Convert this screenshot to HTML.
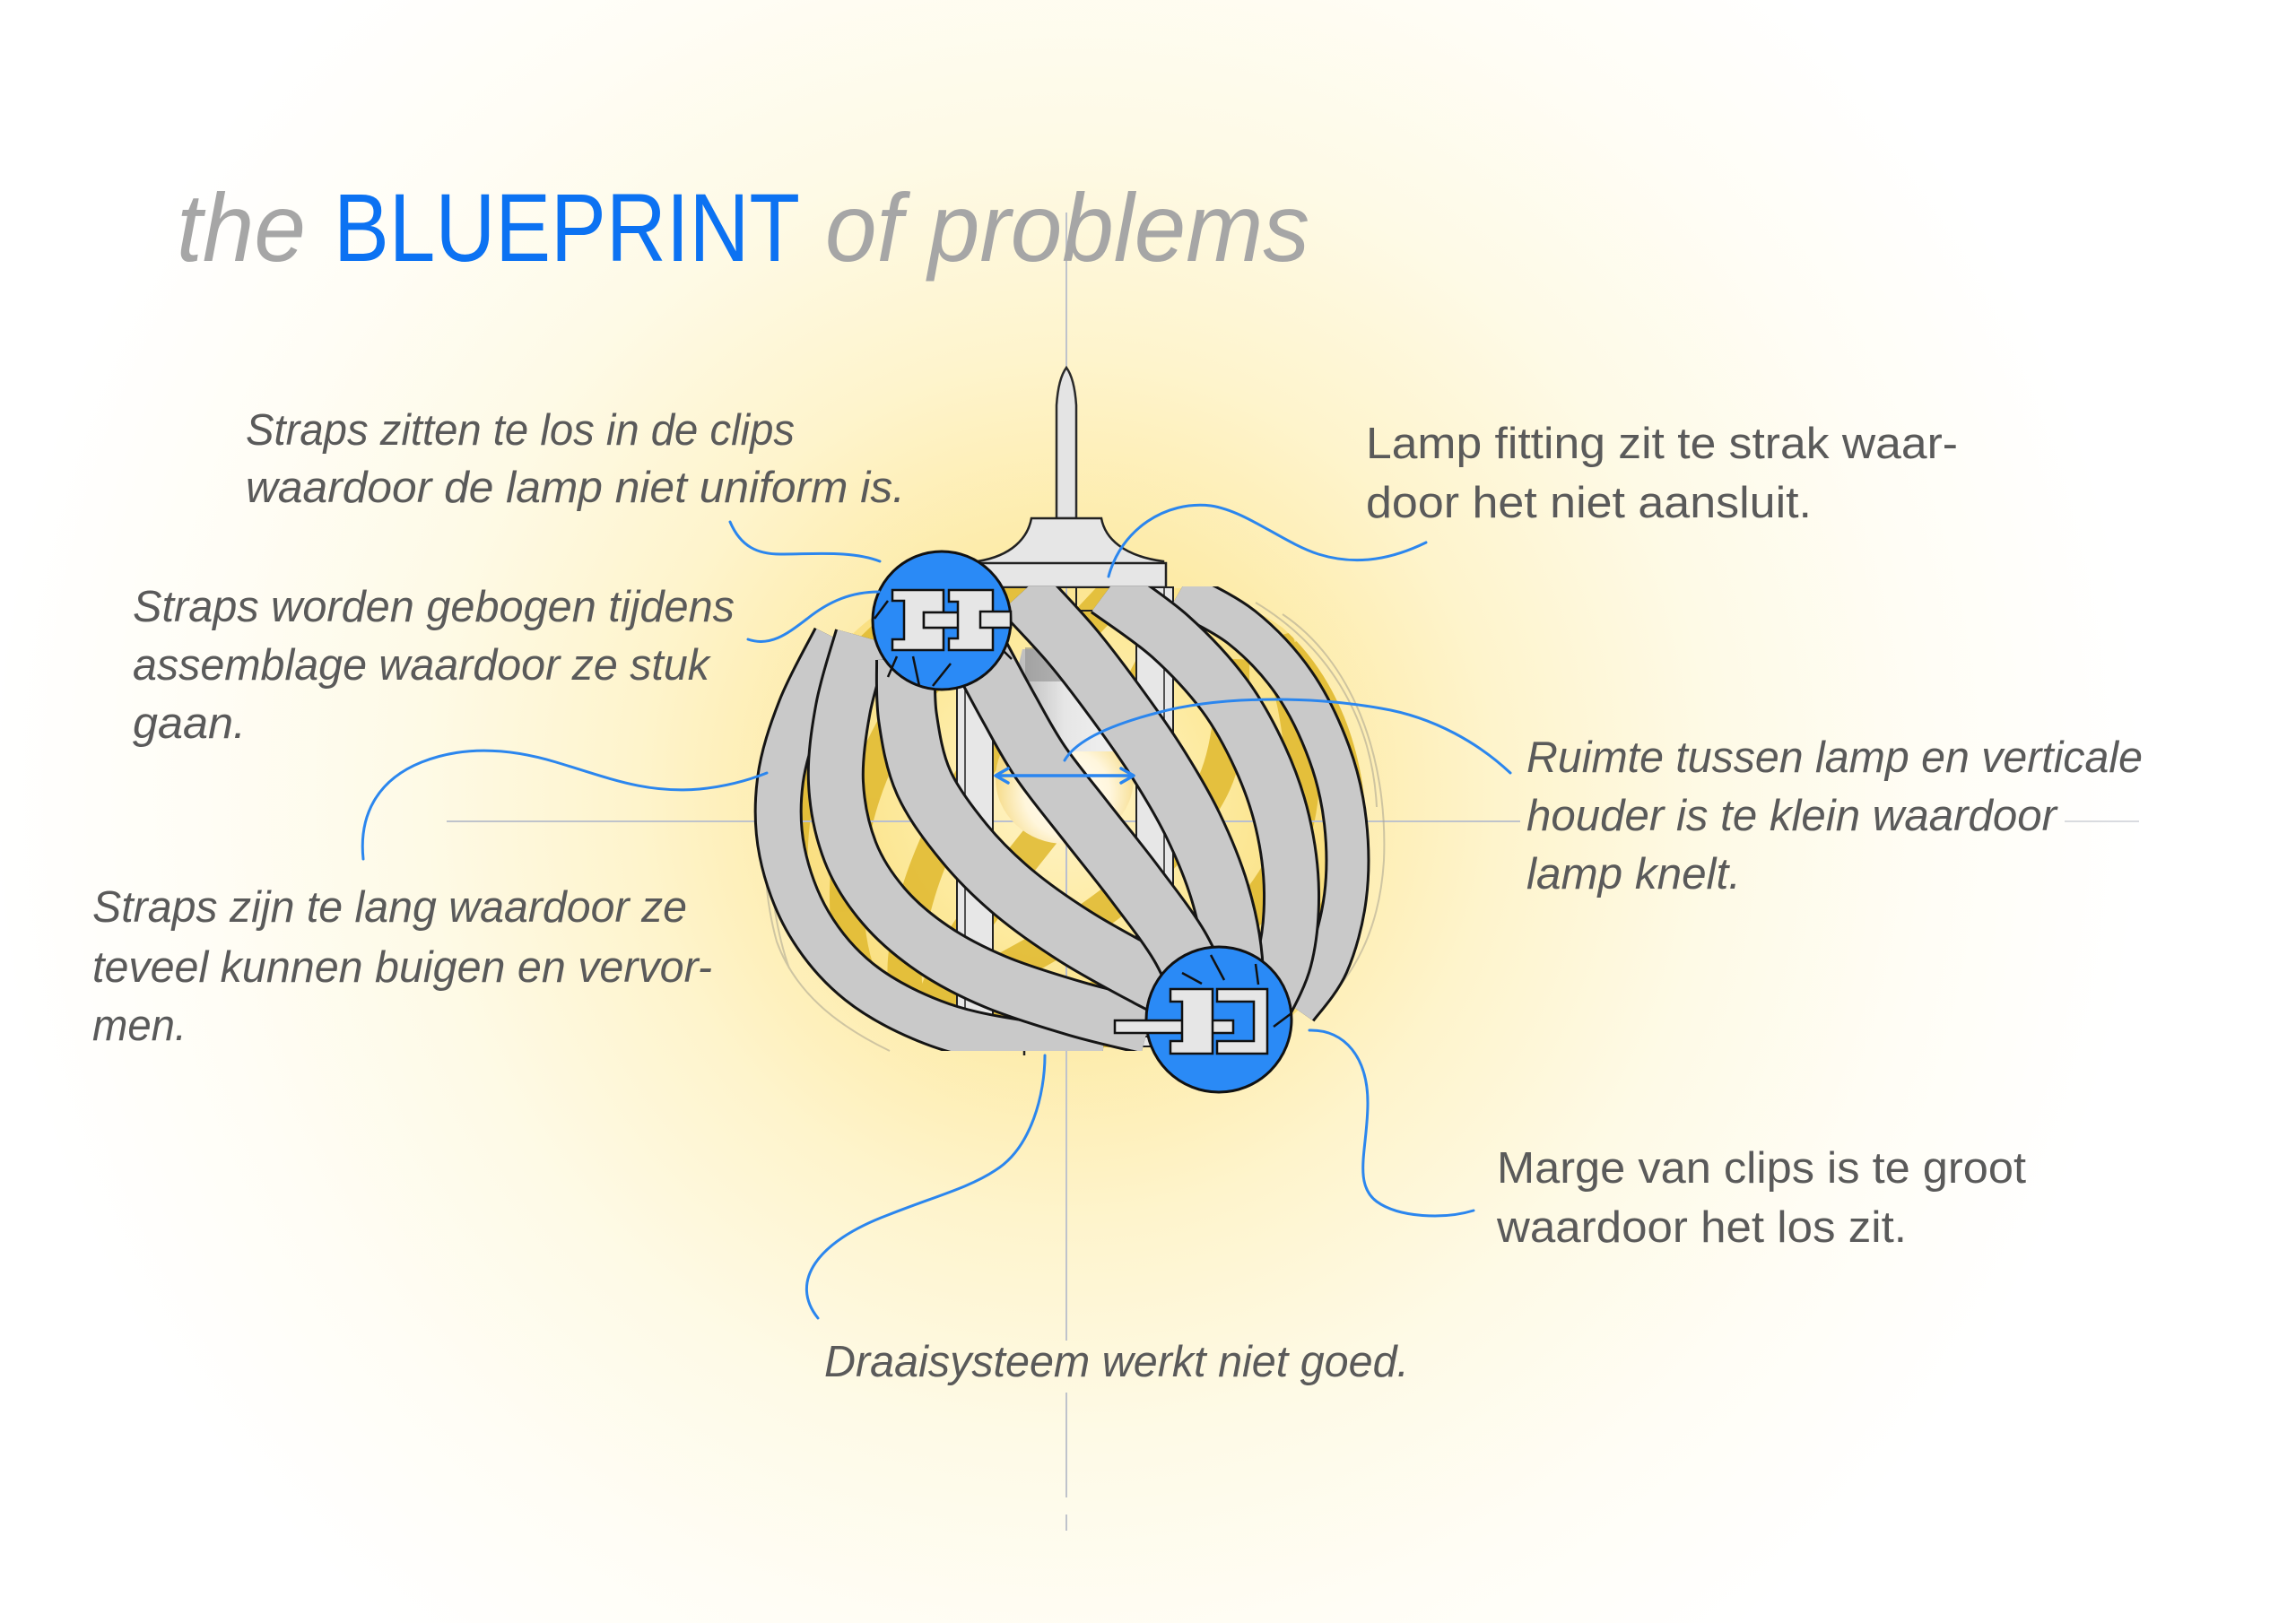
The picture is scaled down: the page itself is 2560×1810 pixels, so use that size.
<!DOCTYPE html>
<html><head><meta charset="utf-8"><style>
html,body{margin:0;padding:0;background:#fff}
svg{display:block}
.t{font-family:"Liberation Sans",sans-serif;fill:#5a5a5a;font-size:49px}
.i{font-style:italic}
.ttl{font-family:"Liberation Sans",sans-serif;font-size:108px}
</style></head><body>
<svg xmlns="http://www.w3.org/2000/svg" width="2560" height="1810" viewBox="0 0 2560 1810">
<defs>
<radialGradient id="glow" gradientUnits="userSpaceOnUse" cx="1190" cy="880" r="1200">
<stop offset="0" stop-color="#fce386"/>
<stop offset="0.22" stop-color="#fdeba8"/>
<stop offset="0.4" stop-color="#fef4cc"/>
<stop offset="0.6" stop-color="#fefae6"/>
<stop offset="0.8" stop-color="#fffdf5"/>
<stop offset="1" stop-color="#ffffff"/>
</radialGradient>
<radialGradient id="inner" gradientUnits="userSpaceOnUse" cx="1187" cy="880" r="340">
<stop offset="0" stop-color="#fff4cc"/>
<stop offset="0.5" stop-color="#fdea9e"/>
<stop offset="1" stop-color="#f8dc78"/>
</radialGradient>
<radialGradient id="bulb" gradientUnits="userSpaceOnUse" cx="1190" cy="885" r="80">
<stop offset="0" stop-color="#ffffff"/>
<stop offset="0.6" stop-color="#fff6dc"/>
<stop offset="1" stop-color="#f6dc8a"/>
</radialGradient>
<linearGradient id="neck" x1="0" y1="0" x2="1" y2="0">
<stop offset="0" stop-color="#a8a8a8"/>
<stop offset="0.5" stop-color="#e6e6e6"/>
<stop offset="1" stop-color="#f4f4f4"/>
</linearGradient>
<clipPath id="sil">
<path d="M1000,672 C940,700 880,780 866,880 C856,980 895,1075 975,1130 C1015,1155 1060,1166 1120,1168 L1380,1168 C1460,1140 1512,1060 1522,960 C1530,860 1498,760 1430,700 C1400,678 1360,662 1320,656 L1070,656 C1040,660 1020,664 1000,672 Z"/>
</clipPath>
<clipPath id="band"><rect x="800" y="654" width="800" height="518"/></clipPath>
<path id="s1" class="sm" fill="none" d="M932,712 L893,790 L870,870 L872,950 L902,1030 L958,1095 L1040,1140 L1130,1162 L1230,1170"/>
<path id="s2" class="sm" fill="none" d="M962,710 L940,790 L932,873 L948,950 L985,1010 L1040,1058 L1110,1095 L1200,1125 L1280,1145"/>
<path id="s3" class="sm" fill="none" d="M1010,735 L1012,800 L1030,873 L1075,940 L1130,995 L1200,1045 L1280,1090 L1340,1120"/>
<path id="s4" class="sm" fill="none" d="M1090,725 L1125,790 L1160,850 L1210,915 L1265,985 L1315,1055 L1345,1120"/>
<path id="s5" class="sm" fill="none" d="M1140,660 L1195,720 L1245,785 L1290,850 L1330,920 L1360,995 L1375,1070 L1372,1130"/>
<path id="s6" class="sm" fill="none" d="M1235,658 L1305,710 L1365,775 L1405,845 L1430,917 L1440,995 L1432,1070 L1405,1130"/>
<path id="r1" class="sm" fill="none" d="M1315,660 L1385,700 L1443,762 L1482,840 L1500,917 L1500,1000 L1480,1075 L1445,1125"/>
</defs>

<rect x="0" y="0" width="2560" height="1810" fill="url(#glow)"/>

<!-- guide lines (outer) -->
<g stroke="#bfc3cb" stroke-width="2" fill="none">
<line x1="1189" y1="237" x2="1189" y2="1495"/>
<line x1="1189" y1="1553" x2="1189" y2="1670"/>
<line x1="1189" y1="1689" x2="1189" y2="1707"/>
<line x1="498" y1="916" x2="1695" y2="916"/>
<line x1="2302" y1="916" x2="2385" y2="916" opacity="0.6"/>
</g>

<!-- rod & canopy -->
<path d="M1178,578 V452 Q1180,422 1189,410 Q1198,422 1200,452 V578 Z" fill="#e4e4e4" stroke="#2a2a2a" stroke-width="2.5"/>
<path d="M1150,578 H1228 C1232,600 1252,620 1297,626 V632 H1090 V626 C1128,620 1146,600 1150,578 Z" fill="#e6e6e6" stroke="#222" stroke-width="2.5"/>
<rect x="1075" y="628" width="225" height="27" fill="#e6e6e6" stroke="#222" stroke-width="2.5"/>

<!-- faint sketch lines -->
<g fill="none" stroke="#a9a390" stroke-width="2" opacity="0.55">
<path d="M905,745 C855,810 838,950 866,1050 C886,1105 930,1142 992,1172"/>
<path d="M895,770 C850,850 848,990 880,1080"/>
<path d="M1430,685 C1505,735 1548,840 1543,960 C1538,1040 1508,1090 1470,1125"/>
<path d="M1400,672 C1480,720 1530,800 1535,900"/>
</g>

<!-- lamp interior -->
<g clip-path="url(#sil)">
<rect x="850" y="650" width="700" height="530" fill="url(#inner)"/>
<g stroke="#e0b92e" stroke-width="38" fill="none" opacity="0.85" stroke-linejoin="round">
<use href="#s1" transform="translate(2384,0) scale(-1,1)"/>
<use href="#s2" transform="translate(2384,0) scale(-1,1)"/>
<use href="#s3" transform="translate(2384,0) scale(-1,1)"/>
<use href="#s4" transform="translate(2384,0) scale(-1,1)"/>
<use href="#s5" transform="translate(2384,0) scale(-1,1)"/>
<use href="#s6" transform="translate(2384,0) scale(-1,1)"/>
<use href="#r1" transform="translate(2384,0) scale(-1,1)"/>
</g>
<line x1="850" y1="916" x2="1550" y2="916" stroke="#b9bfd0" stroke-width="2"/>
<line x1="1189" y1="650" x2="1189" y2="1180" stroke="#b9bfd0" stroke-width="2"/>
</g>

<!-- top ring detail -->
<g stroke="#222" stroke-width="2" fill="none">
<line x1="1100" y1="681" x2="1300" y2="681"/>
<line x1="1200" y1="655" x2="1200" y2="712"/>
<line x1="1255" y1="655" x2="1255" y2="690"/>
<line x1="1150" y1="655" x2="1150" y2="690"/>
</g>

<!-- vertical holders -->
<rect x="1067" y="655" width="40" height="512" fill="#e7e7e7" stroke="#222" stroke-width="2"/>
<line x1="1076" y1="655" x2="1076" y2="1167" stroke="#222" stroke-width="1.5"/>
<rect x="1267" y="655" width="41" height="512" fill="#e7e7e7" stroke="#222" stroke-width="2"/>
<line x1="1298" y1="655" x2="1298" y2="1167" stroke="#222" stroke-width="1.5"/>

<!-- bulb -->
<ellipse cx="1187" cy="868" rx="77" ry="73" fill="url(#bulb)"/>
<path d="M1140,724 L1236,724 L1262,838 L1112,838 Z" fill="url(#neck)"/>
<rect x="1143" y="722" width="60" height="38" fill="#8e8e8e" opacity="0.6"/>

<!-- bottom ring -->
<rect x="1030" y="1140" width="300" height="16" fill="#e8e8e8" stroke="#222" stroke-width="2"/>
<line x1="1142" y1="1122" x2="1142" y2="1177" stroke="#222" stroke-width="2.5"/>

<!-- front straps -->
<g clip-path="url(#band)" fill="none" stroke-linejoin="round">
<use href="#r1" stroke="#151515" stroke-width="50"/><use href="#r1" stroke="#c9c9c9" stroke-width="44"/>
<use href="#s6" stroke="#151515" stroke-width="64"/><use href="#s6" stroke="#c9c9c9" stroke-width="58"/>
<use href="#s5" stroke="#151515" stroke-width="68"/><use href="#s5" stroke="#c9c9c9" stroke-width="62"/>
<use href="#s1" stroke="#151515" stroke-width="54"/><use href="#s1" stroke="#c9c9c9" stroke-width="48"/>
<use href="#s2" stroke="#151515" stroke-width="64"/><use href="#s2" stroke="#c9c9c9" stroke-width="58"/>
<use href="#s3" stroke="#151515" stroke-width="68"/><use href="#s3" stroke="#c9c9c9" stroke-width="62"/>
<use href="#s4" stroke="#151515" stroke-width="68"/><use href="#s4" stroke="#c9c9c9" stroke-width="62"/>
</g>

<!-- blue measurement arrow -->
<g stroke="#2a86f0" stroke-width="3.5" fill="none" stroke-linecap="round" stroke-linejoin="round">
<line x1="1111" y1="865" x2="1263" y2="865"/>
<polyline points="1124,857 1110,865 1124,873"/>
<polyline points="1250,857 1264,865 1250,873"/>
</g>

<!-- top-left clip circle -->
<circle cx="1050" cy="692" r="77" fill="#2a8af6" stroke="#111" stroke-width="3"/>
<g fill="#e6e6e6" stroke="#111" stroke-width="2.5">
<path d="M995,658 H1052 V683 H1030 V700 H1052 V725 H995 V713 H1008 V670 H995 Z"/>
<rect x="1030" y="683" width="42" height="17"/>
<path d="M1058,658 H1107 V725 H1058 V712 H1068 V671 H1058 Z"/>
<rect x="1093" y="682" width="34" height="18"/>
</g>
<g stroke="#111" stroke-width="2.5" fill="none">
<line x1="1000" y1="732" x2="990" y2="755"/>
<line x1="1018" y1="732" x2="1025" y2="765"/>
<line x1="1060" y1="740" x2="1040" y2="765"/>
<line x1="990" y1="670" x2="975" y2="690"/>
<line x1="1118" y1="725" x2="1128" y2="735"/>
</g>

<!-- bottom-right clip circle -->
<circle cx="1359" cy="1137" r="81" fill="#2a8af6" stroke="#111" stroke-width="3"/>
<g fill="#e6e6e6" stroke="#111" stroke-width="2.5">
<rect x="1243" y="1138" width="132" height="14"/>
<path d="M1305,1103 H1352 V1175 H1305 V1161 H1318 V1117 H1305 Z"/>
<path d="M1357,1103 H1413 V1175 H1357 V1161 H1398 V1117 H1357 Z"/>
</g>
<g stroke="#111" stroke-width="2.5" fill="none">
<line x1="1318" y1="1085" x2="1340" y2="1097"/>
<line x1="1350" y1="1065" x2="1365" y2="1093"/>
<line x1="1420" y1="1145" x2="1440" y2="1130"/>
<line x1="1400" y1="1075" x2="1403" y2="1098"/>
</g>

<!-- connectors -->
<g stroke="#2b86ee" stroke-width="3" fill="none" stroke-linecap="round">
<path d="M814,582 C826,610 845,618 870,618 C910,618 950,614 981,626"/>
<path d="M834,713 C860,722 880,705 900,690 C925,670 950,660 980,660"/>
<path d="M405,958 C400,910 420,870 470,850 C510,834 560,832 620,850 C680,868 720,885 780,880 C810,877 835,870 855,862"/>
<path d="M1590,605 C1555,622 1515,632 1470,618 C1430,605 1390,570 1350,564 C1300,558 1250,590 1236,643"/>
<path d="M1684,862 C1650,830 1600,800 1540,790 C1460,776 1360,776 1290,795 C1240,808 1200,825 1187,848"/>
<path d="M1460,1149 C1500,1148 1525,1180 1525,1230 C1525,1280 1508,1320 1535,1340 C1560,1358 1610,1360 1643,1350"/>
<path d="M1165,1177 C1165,1220 1150,1280 1110,1305 C1080,1325 1040,1335 990,1355 C910,1385 880,1430 912,1470"/>
</g>

<!-- title -->
<text class="ttl" x="197" y="291" font-style="italic" fill="#a6a6a6" textLength="144" lengthAdjust="spacingAndGlyphs">the</text>
<text class="ttl" x="372" y="291" fill="#0c72f2" textLength="520" lengthAdjust="spacingAndGlyphs">BLUEPRINT</text>
<text class="ttl" x="920" y="291" font-style="italic" fill="#a6a6a6" textLength="540" lengthAdjust="spacingAndGlyphs">of problems</text>

<!-- labels -->
<text class="t i" x="274" y="496" textLength="612" lengthAdjust="spacingAndGlyphs">Straps zitten te los in de clips</text>
<text class="t i" x="274" y="560" textLength="735" lengthAdjust="spacingAndGlyphs">waardoor de lamp niet uniform is.</text>

<text class="t i" x="148" y="693" textLength="671" lengthAdjust="spacingAndGlyphs">Straps worden gebogen tijdens</text>
<text class="t i" x="148" y="758" textLength="643" lengthAdjust="spacingAndGlyphs">assemblage waardoor ze stuk</text>
<text class="t i" x="148" y="823" textLength="126" lengthAdjust="spacingAndGlyphs">gaan.</text>

<text class="t i" x="103" y="1028" textLength="663" lengthAdjust="spacingAndGlyphs">Straps zijn te lang waardoor ze</text>
<text class="t i" x="103" y="1095" textLength="691" lengthAdjust="spacingAndGlyphs">teveel kunnen buigen en vervor-</text>
<text class="t i" x="103" y="1160" textLength="105" lengthAdjust="spacingAndGlyphs">men.</text>

<text class="t" x="1523" y="511" textLength="660" lengthAdjust="spacingAndGlyphs">Lamp fitting zit te strak waar-</text>
<text class="t" x="1523" y="577" textLength="497" lengthAdjust="spacingAndGlyphs">door het niet aansluit.</text>

<text class="t i" x="1702" y="861" textLength="687" lengthAdjust="spacingAndGlyphs">Ruimte tussen lamp en verticale</text>
<text class="t i" x="1702" y="926" textLength="591" lengthAdjust="spacingAndGlyphs">houder is te klein waardoor</text>
<text class="t i" x="1702" y="991" textLength="239" lengthAdjust="spacingAndGlyphs">lamp knelt.</text>

<text class="t" x="1669" y="1319" textLength="590" lengthAdjust="spacingAndGlyphs">Marge van clips is te groot</text>
<text class="t" x="1669" y="1385" textLength="457" lengthAdjust="spacingAndGlyphs">waardoor het los zit.</text>

<text class="t i" x="919" y="1535" textLength="652" lengthAdjust="spacingAndGlyphs">Draaisysteem werkt niet goed.</text>
</svg>
<script>
document.querySelectorAll('path.sm').forEach(function(p){
  var n=p.getAttribute('d').match(/-?\d+(\.\d+)?/g).map(Number),P=[];
  for(var i=0;i<n.length;i+=2)P.push([n[i],n[i+1]]);
  var d='M'+P[0][0]+','+P[0][1];
  for(var j=0;j<P.length-1;j++){
    var a=P[j-1]||P[j],b=P[j],c=P[j+1],e=P[j+2]||c;
    d+=' C'+(b[0]+(c[0]-a[0])/6)+','+(b[1]+(c[1]-a[1])/6)+' '+(c[0]-(e[0]-b[0])/6)+','+(c[1]-(e[1]-b[1])/6)+' '+c[0]+','+c[1];
  }
  p.setAttribute('d',d);
});
</script>
</body></html>
